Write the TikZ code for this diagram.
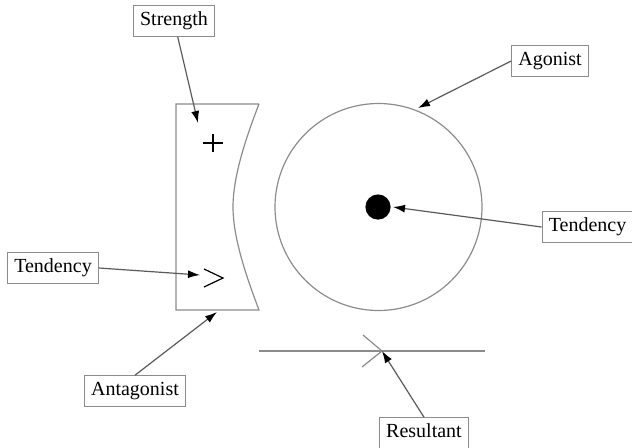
\documentclass[tikz,border=0pt]{standalone}
\usepackage{fontspec}
\setmainfont{Liberation Serif}
\usepackage{xcolor}
\usepackage{tikz}
\usetikzlibrary{arrows.meta, positioning, calc}
\definecolor{mygray}{RGB}{140,140,140}
\definecolor{mydark}{RGB}{90,90,90}
\tikzset{
  tagbox/.style={rectangle, draw=mygray, fill=white, line width=0.6pt,
    inner xsep=3.3pt, inner ysep=3pt, text height=7pt, text depth=2.2pt,
    font=\fontsize{10}{12}\selectfont},
  outline/.style={draw=mygray, line width=0.6pt},
  arrow/.style={-{Latex[length=6pt, width=4pt, color=black]}, line width=0.6pt, color=mydark}
}

\begin{document}
\begin{tikzpicture}[x=0.5pt, y=-0.5pt]
  \useasboundingbox (0,0) rectangle (632,447);

  % antagonist and agonist
  \draw[outline] (259,104) -- (176,104) -- (176,310) -- (259,310)
    .. controls (243,268) and (233,234) .. (233,207)
    .. controls (233,180) and (243,145) .. (259,104);
  \draw[outline] (378.5,207) circle [radius=51.75pt];
  \fill[black] (378,207) circle [radius=6.3pt];
  \draw[line width=0.6pt] (203,143) -- (223,143) (213,134) -- (213,152);
  \draw[line width=0.6pt] (204,269) -- (223,278) -- (204,287);

  % resultant
  \draw[outline] (259,351) -- (485,351);
  \draw[outline] (363,335) -- (382,351) -- (362,367);

  % arrow targets
  \coordinate (plus) at (198,123);
  \coordinate (circ) at (418,108);
  \coordinate (dot) at (393,207);
  \coordinate (gt) at (200,275);
  \coordinate (bot) at (217,312);
  \coordinate (res) at (382,351);

  % labels
  \node[tagbox] (strength) at (174,21) {Strength};
  \node[tagbox] (agonist) at (550,61) {Agonist};
  \node[tagbox] (tendR) at (587.5,227) {Tendency};
  \node[tagbox] (tendL) at (53,268) {Tendency};
  \node[tagbox] (antag) at (135,391) {Antagonist};
  \node[tagbox] (result) at (424,433) {Resultant};

  \draw[arrow] (strength) -- (plus);
  \draw[arrow] (agonist.west) -- (circ);
  \draw[arrow] (tendR.west) -- (dot);
  \draw[arrow] (tendL.east) -- (gt);
  \draw[arrow] (antag.north) -- (bot);
  \draw[arrow] (result.north) -- (res);
\end{tikzpicture}
\end{document}
